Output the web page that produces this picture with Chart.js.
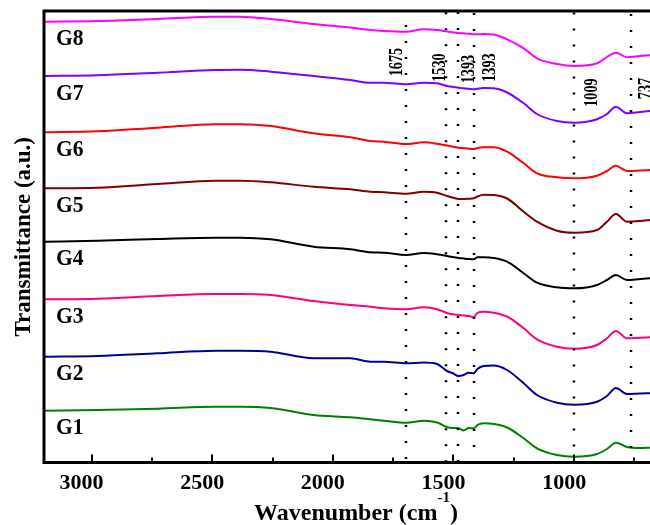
<!DOCTYPE html>
<html><head><meta charset="utf-8">
<script src="https://cdn.jsdelivr.net/npm/chart.js@4.4.1/dist/chart.umd.min.js"></script>
<style>
html,body{margin:0;padding:0;background:#fff;overflow:hidden;width:650px;height:525px;}
#wrap{position:relative;width:668px;height:525px;}
</style></head><body>
<div id="wrap"><canvas id="c"></canvas></div>
<script>
// Wavenumber (cm-1) sample positions
const wavenumbers = [3197,2975,2727,2486,2383,2258,2080,1927,1844,1789,1696,1623,1568,1527,1505,1478,1458,1437,1416,1401,1375,1334,1278,1209,1154,1071,999,905,864,827,781,726,685];

// Transmittance (a.u., stacked offsets) per sample
const G8 = [44.08,44.15,44.35,44.58,44.58,44.35,43.85,43.50,43.25,43.15,43.08,43.32,43.25,43.10,43.02,42.95,42.92,42.87,42.82,42.82,42.85,42.80,42.32,41.42,40.42,39.85,39.65,39.92,40.55,40.98,40.52,40.65,40.72];
const G7 = [38.65,38.72,38.98,39.25,39.28,39.08,38.65,38.25,37.98,37.98,37.82,37.98,37.92,37.65,37.58,37.47,37.42,37.37,37.32,37.38,37.45,37.42,37.00,35.92,34.85,34.15,33.98,34.32,34.85,35.58,34.92,35.05,35.15];
const G6 = [33.02,33.12,33.48,33.82,33.82,33.65,32.92,32.52,32.15,32.08,31.85,32.02,31.88,31.70,31.60,31.48,31.43,31.38,31.35,31.45,31.52,31.52,31.08,29.92,28.92,28.52,28.42,28.68,29.15,29.68,29.15,29.20,29.25];
const G5 = [27.42,27.48,27.85,28.18,28.18,28.02,27.58,27.32,27.08,27.02,26.88,27.08,26.98,26.65,26.50,26.35,26.35,26.38,26.42,26.60,26.78,26.75,26.40,25.08,24.08,23.18,22.98,23.25,24.08,24.85,24.08,24.15,24.25];
const G4 = [22.08,22.18,22.35,22.48,22.48,22.32,21.58,21.32,21.02,20.98,20.75,20.95,20.82,20.65,20.55,20.45,20.40,20.35,20.32,20.52,20.52,20.45,20.08,18.92,17.98,17.52,17.42,17.75,18.25,18.75,18.25,18.35,18.42];
const G3 = [16.32,16.38,16.65,16.85,16.85,16.75,16.15,15.75,15.58,15.42,15.32,15.52,15.32,14.95,14.82,14.75,14.70,14.65,14.55,14.95,15.08,14.98,14.60,13.42,12.32,11.58,11.38,11.75,12.42,13.15,12.42,12.48,12.52];
const G2 = [10.58,10.65,10.92,11.18,11.18,11.08,10.42,10.42,10.08,10.08,9.92,10.00,9.85,9.15,8.95,8.65,8.75,8.98,8.92,9.35,9.65,9.70,9.25,7.92,6.75,5.98,5.78,6.08,6.65,7.45,6.85,6.90,6.92];
const G1 = [5.18,5.25,5.38,5.58,5.58,5.45,4.75,4.52,4.32,4.18,3.98,4.18,4.00,3.55,3.45,3.42,3.20,3.45,3.42,3.75,3.92,3.85,3.50,2.42,1.42,0.75,0.58,0.85,1.35,1.98,1.55,1.45,1.48];

const seriesNames = ['G1','G2','G3','G4','G5','G6','G7','G8'];
const seriesValues = [G1,G2,G3,G4,G5,G6,G7,G8];
const seriesColors = ['#008000','#000099','#ff007f','#000000','#800000','#ff0000','#8000ff','#ff00ff'];

const xTickLabels = [3000,2500,2000,1500,1000];
const xMinorTicks = [2750,2250,1750,1250,750];

// Marked band positions (dotted lines) and their printed labels
const peakPositions = [1698,1532,1481,1415,1001,764];
const peakLabels = ['1675','1530','1393','1393','1009','737'];

const FF = "'Liberation Serif','Times New Roman',serif";

const annot = {
  labelX: [1734,1556,1434,1347,927,702],
  labelY: [40.05,39.5,39.35,39.5,37.0,37.4],
  dotPhase: [14,1.3,1,2,1.5,3]
};

const overlay = {
  id: 'overlay',
  afterDatasetsDraw(chart) {
    const {ctx, chartArea: a, scales: {x, y}} = chart;
    ctx.save();
    // dotted reference lines
    ctx.strokeStyle = '#000';
    ctx.lineWidth = 2.5;
    ctx.setLineDash([2, 14]);
    peakPositions.forEach((w, i) => {
      const px = Math.round(x.getPixelForValue(w));
      ctx.lineDashOffset = -annot.dotPhase[i];
      ctx.beginPath(); ctx.moveTo(px, a.top); ctx.lineTo(px, a.bottom); ctx.stroke();
    });
    ctx.setLineDash([]);
    // peak labels (rotated)
    ctx.fillStyle = '#000';
    ctx.font = `bold 19px ${FF}`;
    ctx.textAlign = 'center';
    ctx.textBaseline = 'middle';
    peakLabels.forEach((t, i) => {
      const px = x.getPixelForValue(annot.labelX[i]);
      const py = y.getPixelForValue(annot.labelY[i]);
      ctx.save(); ctx.translate(px, py); ctx.rotate(-Math.PI/2); ctx.scale(0.75, 1);
      ctx.fillText(t, 0, 0); ctx.restore();
    });
    // series labels
    ctx.font = `bold 24px ${FF}`;
    ctx.textAlign = 'left';
    chart.data.datasets.forEach((ds, i) => {
      const p0 = chart.getDatasetMeta(i).data[0];
      ctx.save(); ctx.translate(a.left + 12, p0.y + 17.5); ctx.scale(0.9, 1);
      ctx.fillText(ds.label, 0, 0); ctx.restore();
    });
    // frame
    ctx.strokeStyle = '#000';
    ctx.lineWidth = 3;
    ctx.beginPath();
    ctx.moveTo(a.left - 1.5, a.top); ctx.lineTo(a.right + 2, a.top);
    ctx.moveTo(a.left, a.top - 1.5); ctx.lineTo(a.left, a.bottom + 1.5);
    ctx.moveTo(a.left - 1.5, a.bottom); ctx.lineTo(a.right + 2, a.bottom);
    ctx.stroke();
    // inward bottom ticks
    ctx.lineWidth = 2;
    ctx.beginPath();
    xTickLabels.forEach(v => { const px = Math.round(x.getPixelForValue(v)); ctx.moveTo(px, a.bottom); ctx.lineTo(px, a.bottom - 8); });
    xMinorTicks.forEach(v => { const px = Math.round(x.getPixelForValue(v)); ctx.moveTo(px, a.bottom); ctx.lineTo(px, a.bottom - 5); });
    ctx.stroke();
    // x axis title with superscript
    const main = 'Wavenumber (cm', sup = '-1', close = ')';
    ctx.textBaseline = 'alphabetic';
    ctx.font = `bold 24px ${FF}`;
    const w1 = ctx.measureText(main).width, w3 = ctx.measureText(close).width;
    ctx.font = `bold 15px ${FF}`;
    const w2 = ctx.measureText(sup).width;
    const sx = (a.left + a.right) / 2 - (w1 + w2 + w3) / 2;
    const by = chart.height - 5;
    ctx.font = `bold 24px ${FF}`;
    ctx.fillText(main, sx, by);
    ctx.fillText(close, sx + w1 + w2, by);
    ctx.font = `bold 15px ${FF}`;
    ctx.fillText(sup, sx + w1, by - 18);
    ctx.restore();
  }
};

const datasets = seriesNames.map((name, i) => ({
  label: name,
  data: wavenumbers.map((w, j) => ({x: w, y: seriesValues[i][j]})),
  borderColor: seriesColors[i],
  borderWidth: 2,
  pointRadius: 0,
  fill: false,
  cubicInterpolationMode: 'monotone'
})).reverse();

new Chart(document.getElementById('c'), {
  type: 'line',
  data: { datasets },
  options: {
    responsive: true,
    maintainAspectRatio: false,
    animation: false,
    layout: { padding: { top: 11, left: 0, right: 0, bottom: 0 } },
    plugins: { legend: { display: false }, tooltip: { enabled: false } },
    scales: {
      x: {
        type: 'linear',
        reverse: true,
        min: 611,
        max: 3197,
        afterBuildTicks: s => { s.ticks = xTickLabels.map(v => ({ value: v })); },
        afterFit: s => { s.height = 62.5; },
        grid: { display: false, drawTicks: false },
        border: { display: false },
        ticks: {
          color: '#000',
          font: { family: FF, size: 22, weight: 'bold' },
          padding: 8,
          labelOffset: -10,
          maxRotation: 0,
          autoSkip: false,
          callback: v => String(v)
        }
      },
      y: {
        min: 0,
        max: 45.15,
        afterFit: s => { s.width = 44; },
        grid: { display: false, drawTicks: false },
        border: { display: false },
        ticks: { display: false },
        title: {
          display: true,
          text: 'Transmittance (a.u.)',
          color: '#000',
          font: { family: FF, size: 23, weight: 'bold' },
          padding: { top: 10, bottom: 0 }
        }
      }
    }
  },
  plugins: [overlay]
});
</script>
</body></html>
